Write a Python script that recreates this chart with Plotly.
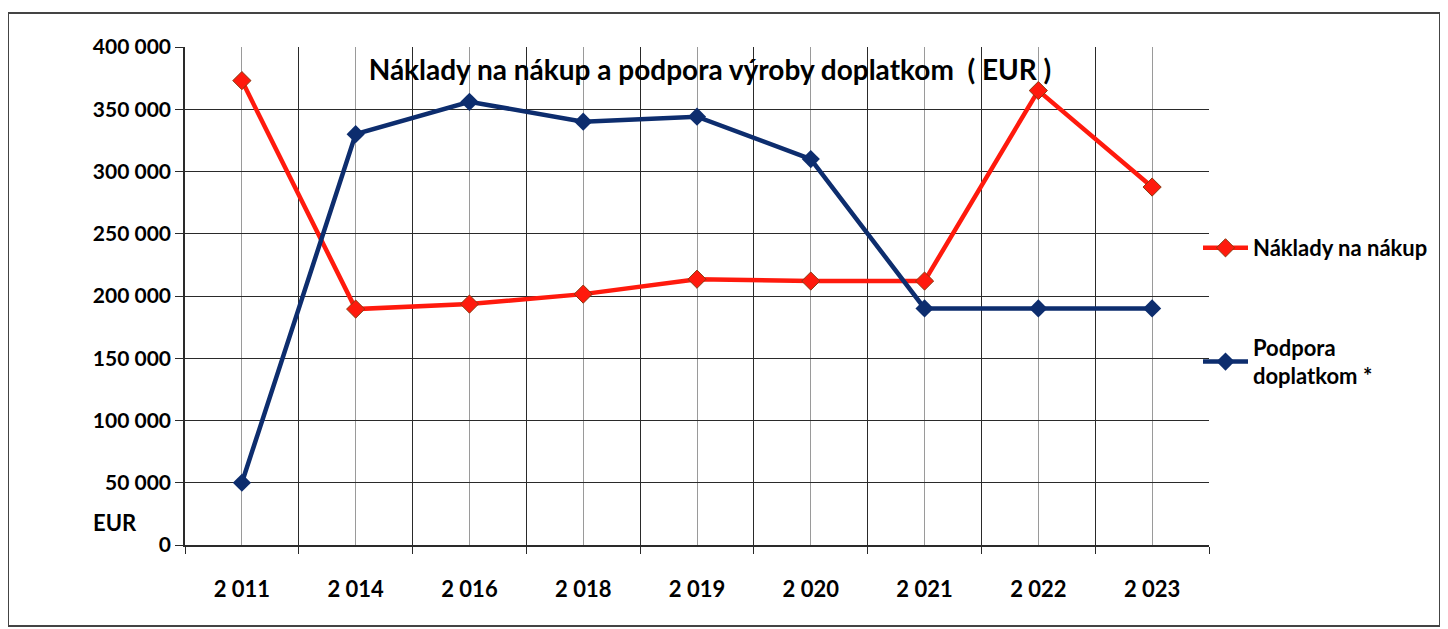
import plotly.graph_objects as go

categories = ["2 011", "2 014", "2 016", "2 018", "2 019", "2 020", "2 021", "2 022", "2 023"]
naklady = [373000, 189500, 193500, 201500, 213500, 212000, 212000, 365000, 287500]
podpora = [50000, 330000, 356000, 340000, 344000, 310000, 190000, 190000, 190000]
y_ticks = [0, 50000, 100000, 150000, 200000, 250000, 300000, 350000, 400000]
y_labels = ["<b>%s</b>" % f"{v:,}".replace(",", " ") for v in y_ticks]

idx = list(range(len(categories)))
bounds = [i - 0.5 for i in range(len(categories) + 1)]

FONT = "Lato, 'Liberation Sans', Arial, sans-serif"
RED = "#ff1a0d"
BLUE = "#0d2d6e"

# page body has an 8px margin
W, H = 1440, 621
OFF = 8
PL, PR, PT, PB = 185, 1209, 47, 545   # plot area in window pixels
L, T = PL - OFF, PT - OFF
R = W - (PR - OFF)
B = H - (PB - OFF)
PW = W - L - R
PH = H - T - B

def px_x(x):
    return (x - PL) / PW

def px_y(y):
    return (PB - y) / PH

fig = go.Figure()
fig.add_trace(go.Scatter(
    x=idx, y=naklady, name="<b>Náklady na nákup</b>", mode="lines+markers",
    line=dict(color=RED, width=4.5),
    marker=dict(symbol="diamond", size=14, color=RED, line=dict(color="#8a3a10", width=1)),
    legend="legend",
))
fig.add_trace(go.Scatter(
    x=idx, y=podpora, name="<b>Podpora<br>doplatkom *</b>", mode="lines+markers",
    line=dict(color=BLUE, width=4.5),
    marker=dict(symbol="diamond", size=14, color=BLUE),
    legend="legend2",
))

fig.update_layout(
    width=W, height=H,
    margin=dict(l=L, r=R, t=T, b=B),
    paper_bgcolor="white", plot_bgcolor="white",
    font=dict(family=FONT, color="black"),
    title=dict(text="<b>Náklady na nákup a podpora výroby doplatkom  ( EUR )</b>",
               x=(710 - OFF) / W, xref="container", xanchor="center",
               y=1 - (70 - OFF) / H, yref="container", yanchor="middle",
               font=dict(size=28, family=FONT, color="black")),
    showlegend=True,
    legend=dict(x=px_x(1198), xanchor="left", y=px_y(248), yanchor="middle",
                font=dict(size=22, family=FONT, color="black"), bgcolor="rgba(0,0,0,0)",
                itemwidth=45),
    legend2=dict(x=px_x(1198), xanchor="left", y=px_y(362), yanchor="middle",
                 font=dict(size=22, family=FONT, color="black"), bgcolor="rgba(0,0,0,0)",
                 itemwidth=45),
    xaxis=dict(
        range=[-0.5, len(categories) - 0.5],
        tickvals=idx, ticktext=["<b>%s</b>" % c for c in categories],
        tickfont=dict(size=22, family=FONT, color="black"),
        showgrid=True, gridcolor="#9a9a9a", gridwidth=1,
        ticks="", ticklabelstandoff=24,
        minor=dict(tickvals=bounds, showgrid=True, gridcolor="#2a2a2a", gridwidth=1.3,
                   ticks="outside", ticklen=7, tickcolor="#2a2a2a"),
        showline=True, linecolor="#2a2a2a", linewidth=1.5, mirror=False,
        zeroline=False, fixedrange=True,
    ),
    yaxis=dict(
        range=[0, 400000], tickvals=y_ticks, ticktext=y_labels,
        tickfont=dict(size=21, family=FONT, color="black"),
        showgrid=True, gridcolor="#2a2a2a", gridwidth=1.3,
        ticks="outside", ticklen=8, tickcolor="#2a2a2a",
        showline=True, linecolor="#2a2a2a", linewidth=1.5,
        zeroline=False, fixedrange=True,
    ),
)

# EUR axis label
fig.add_annotation(text="<b>EUR</b>", xref="paper", yref="paper",
                   x=px_x(115), y=px_y(522),
                   xanchor="center", yanchor="middle", showarrow=False,
                   font=dict(size=22, family=FONT, color="black"))

# outer frame of the chart
fig.add_shape(type="rect", xref="paper", yref="paper",
              x0=px_x(8), x1=px_x(1440),
              y0=px_y(626), y1=px_y(13),
              line=dict(color="#444444", width=2), layer="below")

fig.write_html("out.html")
